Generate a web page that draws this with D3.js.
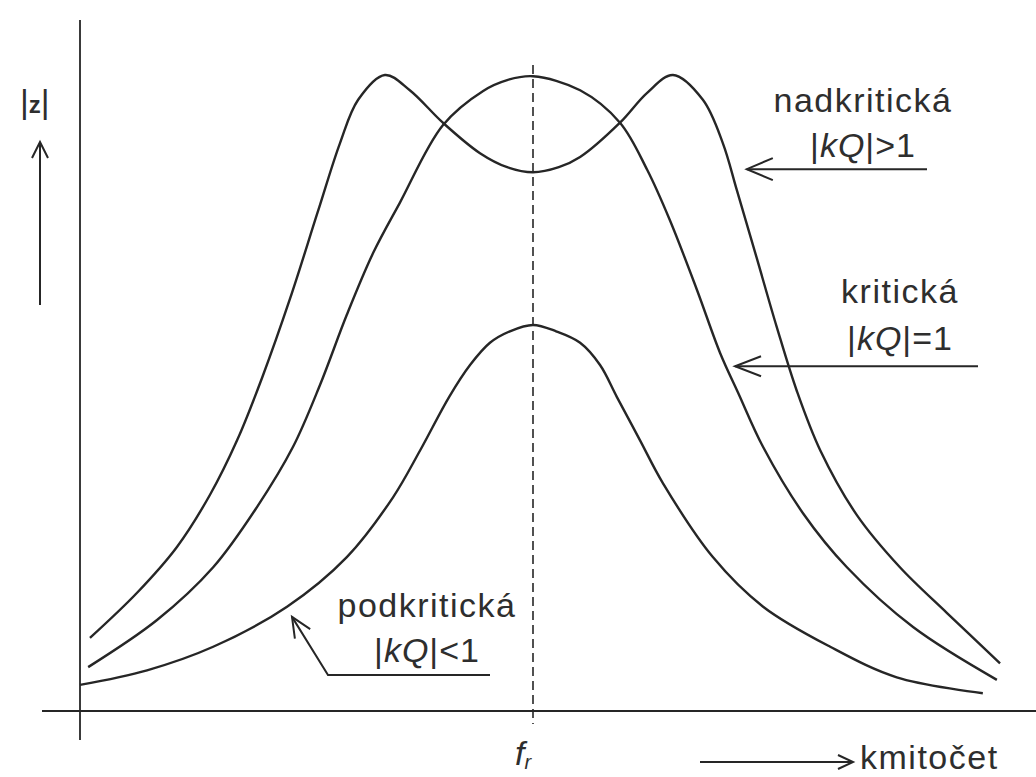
<!DOCTYPE html>
<html>
<head>
<meta charset="utf-8">
<script src="https://cdn.jsdelivr.net/npm/d3@7/dist/d3.min.js"></script>
<style>
  body { margin: 0; background: #fff; }
  text { font-family: "Liberation Sans", Arial, sans-serif; fill: #2e2e2e; }
</style>
</head>
<body>
<script>
// frequency relative to f_r (f_r = 1), |z| relative to the peak (1 = max)
let overF = [0.022, 0.126, 0.214, 0.287, 0.347, 0.402, 0.464, 0.525, 0.574, 0.614, 0.673,
             0.728, 0.801, 0.883, 0.943, 1.0, 1.057, 1.104, 1.192, 1.252, 1.309, 1.375, 1.419,
             1.450, 1.494, 1.538, 1.583, 1.634, 1.715, 1.810, 1.914, 2.031];
let overZ = [0.115, 0.186, 0.258, 0.340, 0.426, 0.524, 0.649, 0.785, 0.893, 0.961, 1.0,
             0.976, 0.925, 0.877, 0.855, 0.847, 0.855, 0.871, 0.925, 0.972, 1.0, 0.961, 0.893,
             0.819, 0.712, 0.604, 0.502, 0.410, 0.308, 0.226, 0.154, 0.075];

let critF = [0.018, 0.170, 0.294, 0.391, 0.470, 0.530, 0.589, 0.647, 0.706, 0.801, 0.890, 0.943, 1.0,
             1.104, 1.192, 1.252, 1.302, 1.362, 1.413, 1.453, 1.508, 1.596, 1.693, 1.839, 2.024];
let critZ = [0.069, 0.143, 0.226, 0.321, 0.415, 0.513, 0.623, 0.720, 0.799, 0.921, 0.975, 0.992, 0.998,
             0.976, 0.925, 0.851, 0.772, 0.662, 0.563, 0.500, 0.415, 0.311, 0.226, 0.132, 0.049];

let subF = [0.0, 0.148, 0.294, 0.457, 0.589, 0.691, 0.751, 0.815, 0.861, 0.905, 0.949, 1.0,
            1.051, 1.104, 1.148, 1.185, 1.236, 1.287, 1.397, 1.508, 1.656, 1.803, 1.993];
let subZ = [0.041, 0.064, 0.101, 0.164, 0.242, 0.336, 0.410, 0.494, 0.544, 0.579, 0.597, 0.607,
            0.597, 0.579, 0.544, 0.494, 0.426, 0.358, 0.242, 0.164, 0.101, 0.053, 0.028];

// labels: name, condition, and where its arrow points (f, |z|)
let labelNames = ['nadkritická', 'kritická', 'podkritická'];
let labelConds = ['>1', '=1', '<1'];
let arrowTips = [[1.472, 0.852], [1.446, 0.542], [0.468, 0.148]];

let w = 1036;
let h = 777;
let ink = '#262626';

let svg = d3.select('body').append('svg').attr('width', w).attr('height', h);

let xScale = d3.scaleLinear().domain([0, 1]).range([80, 533]);
let yScale = d3.scaleLinear().domain([0, 1]).range([711, 75]);

let line = d3.line()
  .x((d) => xScale(d[0]))
  .y((d) => yScale(d[1]))
  .curve(d3.curveCatmullRom.alpha(0.5));

// open "V" arrow along a polyline, tip at the last point
function arrow(g, pts, len, half, width) {
  let n = pts.length;
  let [x1, y1] = pts[n - 2];
  let [x2, y2] = pts[n - 1];
  let a = Math.atan2(y2 - y1, x2 - x1);
  let ux = Math.cos(a), uy = Math.sin(a);
  let bx = x2 - ux * len, by = y2 - uy * len;
  g.append('path')
    .attr('d', d3.line()(pts))
    .attr('fill', 'none').attr('stroke', ink).attr('stroke-width', width);
  g.append('path')
    .attr('d', d3.line()([[bx - uy * half, by + ux * half], [x2, y2], [bx + uy * half, by - ux * half]]))
    .attr('fill', 'none').attr('stroke', ink).attr('stroke-width', width);
}

// axes (plain lines, no ticks)
svg.append('line')
  .attr('x1', xScale(0)).attr('x2', xScale(0))
  .attr('y1', 20).attr('y2', 740)
  .attr('stroke', '#3a3a3a').attr('stroke-width', 2);
svg.append('line')
  .attr('x1', 42).attr('x2', w)
  .attr('y1', yScale(0)).attr('y2', yScale(0))
  .attr('stroke', ink).attr('stroke-width', 2.2);

// f_r dashed line
svg.append('line')
  .attr('x1', xScale(1)).attr('x2', xScale(1))
  .attr('y1', 65).attr('y2', 724)
  .attr('stroke', ink).attr('stroke-width', 1.6)
  .attr('stroke-dasharray', '9,5');

// the three curves
let curves = [d3.zip(overF, overZ), d3.zip(critF, critZ), d3.zip(subF, subZ)];
svg.selectAll('.curve')
  .data(curves)
  .enter()
  .append('path')
  .classed('curve', true)
  .attr('d', line)
  .attr('fill', 'none')
  .attr('stroke', ink)
  .attr('stroke-width', 2.4);

// |z| with up arrow
let yl = svg.append('text').attr('x', 20).attr('y', 113);
yl.append('tspan').attr('font-size', 34).text('|');
yl.append('tspan').attr('font-size', 24).attr('font-weight', 'bold').text('z');
yl.append('tspan').attr('font-size', 34).text('|');
arrow(svg.append('g'), [[40, 305], [40, 142]], 16, 8, 2);

// x label
arrow(svg.append('g'), [[700, 762], [853, 762]], 15, 7, 2);
svg.append('text').attr('x', 860).attr('y', 769)
  .attr('font-size', 34).attr('letter-spacing', 1.5).text('kmitočet');

let fr = svg.append('text').attr('x', xScale(1) - 18).attr('y', 765).attr('font-style', 'italic');
fr.append('tspan').attr('font-size', 34).text('f');
fr.append('tspan').attr('font-size', 20).attr('dy', 4).text('r');

// curve labels
let labelPos = [[863, 112, 157], [900, 303, 350], [427, 617, 662]];
labelNames.forEach((name, i) => {
  let [cx, y1, y2] = labelPos[i];
  svg.append('text').attr('x', cx).attr('y', y1)
    .attr('text-anchor', 'middle').attr('font-size', 34).attr('letter-spacing', 1.5)
    .text(name);
  let t = svg.append('text').attr('x', cx).attr('y', y2)
    .attr('text-anchor', 'middle').attr('font-size', 34).attr('letter-spacing', 1);
  t.append('tspan').text('|');
  t.append('tspan').attr('font-style', 'italic').text('kQ');
  t.append('tspan').text('|' + labelConds[i]);
});

// arrows pointing at curves
let tip0 = [xScale(arrowTips[0][0]), yScale(arrowTips[0][1])];
arrow(svg.append('g'), [[927, tip0[1]], tip0], 26, 11, 2);
let tip1 = [xScale(arrowTips[1][0]), yScale(arrowTips[1][1])];
arrow(svg.append('g'), [[978, tip1[1]], tip1], 26, 10, 2);
let tip2 = [xScale(arrowTips[2][0]), yScale(arrowTips[2][1])];
arrow(svg.append('g'), [[490, 675], [328, 675], tip2], 20, 9, 2);
</script>
</body>
</html>
